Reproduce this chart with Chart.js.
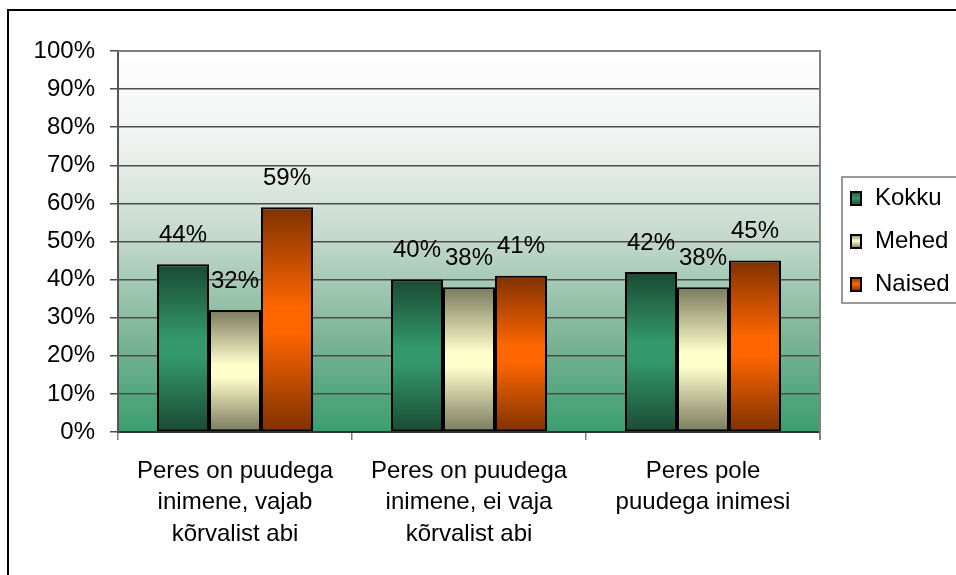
<!DOCTYPE html>
<html>
<head>
<meta charset="utf-8">
<script src="https://cdn.jsdelivr.net/npm/chart.js@4"></script>
<style>
  html, body { margin: 0; padding: 0; background: #fff; }
  #wrap { width: 956px; height: 575px; }
</style>
</head>
<body>
<div id="wrap"><canvas id="chart" width="956" height="575"></canvas></div>
<script>
const categories = [
    ['Peres on puudega', 'inimene, vajab', 'kõrvalist abi'],
    ['Peres on puudega', 'inimene, ei vaja', 'kõrvalist abi'],
    ['Peres pole', 'puudega inimesi']
];
const seriesNames = ['Kokku', 'Mehed', 'Naised'];
const kokku = [44, 40, 42];
const mehed = [32, 38, 38];
const naised = [59, 41, 45];
const yTicks = [0, 10, 20, 30, 40, 50, 60, 70, 80, 90, 100];

const FONT = 'Arial, "Liberation Sans", sans-serif';
const FS = 24;

// dark edge / light middle for each series
const palette = [
    ['#1a4a33', '#33996a'],
    ['#79795e', '#ffffcc'],
    ['#7f3100', '#ff6600']
];

function barFill(pair) {
    return function (ctx) {
        const chart = ctx.chart;
        if (!chart.chartArea || ctx.type !== 'data') return pair[1];
        const y = chart.scales.y;
        const top = y.getPixelForValue(ctx.raw);
        const bottom = y.getPixelForValue(0);
        const g = chart.ctx.createLinearGradient(0, top, 0, bottom);
        g.addColorStop(0, pair[0]);
        g.addColorStop(0.45, pair[1]);
        g.addColorStop(0.55, pair[1]);
        g.addColorStop(1, pair[0]);
        return g;
    };
}

const framePlugin = {
    id: 'frame',
    beforeDraw(chart) {
        const c = chart.ctx;
        const a = chart.chartArea;
        c.save();
        c.fillStyle = '#fff';
        c.fillRect(0, 0, chart.width, chart.height);
        c.strokeStyle = '#000';
        c.lineWidth = 2;
        c.strokeRect(8, 10, chart.width + 50, chart.height + 50);
        const g = c.createLinearGradient(0, a.top, 0, a.bottom);
        g.addColorStop(0, '#ffffff');
        g.addColorStop(0.25, '#eef2ef');
        g.addColorStop(0.5, '#c2d8ca');
        g.addColorStop(0.75, '#7db597');
        g.addColorStop(1, '#3a9e6e');
        c.fillStyle = g;
        c.fillRect(a.left, a.top, a.right - a.left, a.bottom - a.top);
        c.restore();
    },
    beforeDatasetsDraw(chart) {
        const c = chart.ctx;
        const a = chart.chartArea;
        c.save();
        c.strokeStyle = '#808080';
        c.lineWidth = 2;
        c.beginPath();
        c.moveTo(a.left, a.top);
        c.lineTo(a.right, a.top);
        c.lineTo(a.right, a.bottom + 8);
        c.stroke();
        c.restore();
    },
    afterDatasetsDraw(chart) {
        const c = chart.ctx;
        c.save();
        c.font = FS + 'px ' + FONT;
        c.fillStyle = '#000';
        c.textAlign = 'center';
        c.textBaseline = 'middle';
        chart.data.datasets.forEach((ds, i) => {
            chart.getDatasetMeta(i).data.forEach((bar, j) => {
                c.fillText(ds.data[j] + '%', bar.x, bar.y - 29);
            });
        });
        c.restore();
    },
    afterDraw(chart) {
        const c = chart.ctx;
        c.save();
        c.strokeStyle = '#7a7a7a';
        c.lineWidth = 1.5;
        c.strokeRect(842, 177, 200, 126);
        c.font = FS + 'px ' + FONT;
        c.textAlign = 'left';
        c.textBaseline = 'middle';
        seriesNames.forEach((name, i) => {
            const cy = 198 + i * 43;
            const g = c.createLinearGradient(0, cy - 7, 0, cy + 7);
            g.addColorStop(0, palette[i][0]);
            g.addColorStop(0.5, palette[i][1]);
            g.addColorStop(1, palette[i][0]);
            c.fillStyle = g;
            c.fillRect(851, cy - 6, 10, 13);
            c.strokeStyle = '#000';
            c.lineWidth = 2;
            c.strokeRect(851, cy - 6, 10, 13);
            c.fillStyle = '#000';
            c.fillText(name, 875, cy);
        });
        c.restore();
    }
};

const ctx = document.getElementById('chart').getContext('2d');

const chart = new Chart(ctx, {
    type: 'bar',
    data: {
        labels: categories,
        datasets: [kokku, mehed, naised].map((vals, i) => ({
            label: seriesNames[i],
            data: vals,
            backgroundColor: barFill(palette[i]),
            borderColor: '#000',
            borderWidth: 2,
            borderSkipped: false,
            categoryPercentage: 2 / 3,
            barPercentage: 1
        }))
    },
    options: {
        responsive: false,
        animation: false,
        devicePixelRatio: 1,
        layout: { padding: { left: 0, top: 51, right: 136, bottom: 0 } },
        plugins: {
            legend: { display: false },
            tooltip: { enabled: false }
        },
        scales: {
            x: {
                afterFit: s => { s.height = 143; },
                grid: {
                    drawOnChartArea: false,
                    drawTicks: true,
                    tickLength: 8,
                    color: '#808080',
                    lineWidth: 1.5
                },
                border: { display: true, color: '#333', width: 2 },
                ticks: {
                    color: '#000',
                    padding: 16,
                    maxRotation: 0,
                    autoSkip: false,
                    font: { family: FONT, size: FS, lineHeight: 1.3 }
                }
            },
            y: {
                min: 0,
                max: 100,
                afterFit: s => { s.width = 118; },
                afterBuildTicks: s => { s.ticks = yTicks.map(v => ({ value: v })); },
                grid: {
                    color: '#4d4d4d',
                    lineWidth: 1.5,
                    drawTicks: true,
                    tickLength: 8
                },
                border: { display: true, color: '#555', width: 2 },
                ticks: {
                    color: '#000',
                    padding: 15,
                    font: { family: FONT, size: FS },
                    callback: v => v + '%'
                }
            }
        }
    },
    plugins: [framePlugin]
});
</script>
</body>
</html>
